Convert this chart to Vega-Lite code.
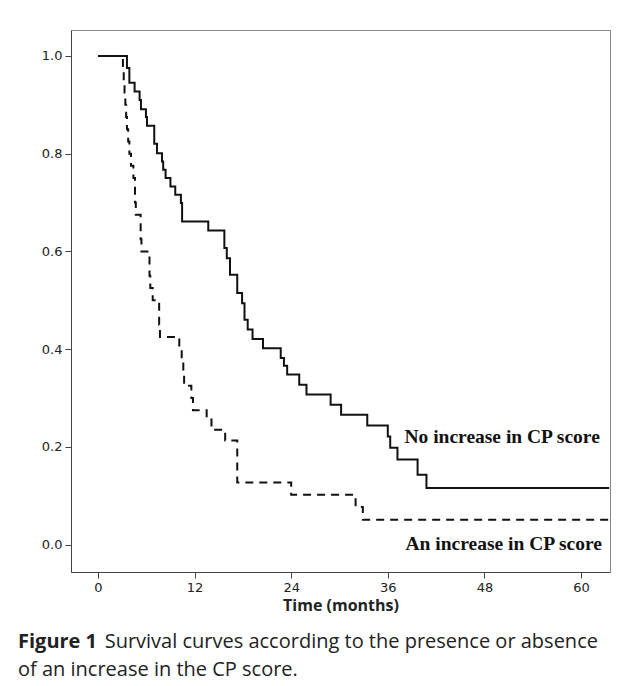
{
  "$schema": "https://vega.github.io/schema/vega-lite/v6.json",
  "width": 539,
  "height": 542,
  "autosize": {"type": "none"},
  "padding": {"left": 71, "top": 30, "right": 11, "bottom": 114},
  "background": "white",
  "config": {"view": {"stroke": "#888", "strokeWidth": 1}, "axis": {"grid": false}},
  "title": {
    "text": "Figure 1",
    "subtitle": ["\u200B\u2003\u2003\u2003\u2003\u2006\u2009Survival curves according to the presence or absence", "of an increase in the CP score."],
    "orient": "bottom",
    "anchor": "start",
    "frame": "group",
    "dx": -53,
    "offset": 19,
    "font": "Open Sans",
    "fontSize": 20,
    "fontWeight": "bold",
    "color": "#222",
    "subtitleFont": "Open Sans",
    "subtitleFontSize": 20,
    "subtitleFontWeight": "normal",
    "subtitleColor": "#222",
    "subtitleLineHeight": 28,
    "subtitlePadding": -20
  },
  "datasets": {
    "survival": [
      {"group": "No increase in CP score", "time": 0, "survival": 1.0},
      {"group": "No increase in CP score", "time": 3.6, "survival": 0.975},
      {"group": "No increase in CP score", "time": 3.9, "survival": 0.945},
      {"group": "No increase in CP score", "time": 4.55, "survival": 0.927},
      {"group": "No increase in CP score", "time": 5.17, "survival": 0.91},
      {"group": "No increase in CP score", "time": 5.34, "survival": 0.891},
      {"group": "No increase in CP score", "time": 5.96, "survival": 0.875},
      {"group": "No increase in CP score", "time": 6.09, "survival": 0.857},
      {"group": "No increase in CP score", "time": 6.99, "survival": 0.82},
      {"group": "No increase in CP score", "time": 7.33, "survival": 0.801},
      {"group": "No increase in CP score", "time": 7.95, "survival": 0.784},
      {"group": "No increase in CP score", "time": 8.1, "survival": 0.767},
      {"group": "No increase in CP score", "time": 8.4, "survival": 0.75},
      {"group": "No increase in CP score", "time": 9.0, "survival": 0.733},
      {"group": "No increase in CP score", "time": 9.6, "survival": 0.716},
      {"group": "No increase in CP score", "time": 10.3, "survival": 0.699},
      {"group": "No increase in CP score", "time": 10.45, "survival": 0.661},
      {"group": "No increase in CP score", "time": 13.7, "survival": 0.643},
      {"group": "No increase in CP score", "time": 15.7, "survival": 0.607},
      {"group": "No increase in CP score", "time": 16.0, "survival": 0.586},
      {"group": "No increase in CP score", "time": 16.4, "survival": 0.552},
      {"group": "No increase in CP score", "time": 17.3, "survival": 0.515},
      {"group": "No increase in CP score", "time": 17.9, "survival": 0.494},
      {"group": "No increase in CP score", "time": 18.2, "survival": 0.46},
      {"group": "No increase in CP score", "time": 18.6, "survival": 0.44},
      {"group": "No increase in CP score", "time": 19.2, "survival": 0.421},
      {"group": "No increase in CP score", "time": 20.5, "survival": 0.402},
      {"group": "No increase in CP score", "time": 22.7, "survival": 0.382},
      {"group": "No increase in CP score", "time": 23.1, "survival": 0.366},
      {"group": "No increase in CP score", "time": 23.5, "survival": 0.348},
      {"group": "No increase in CP score", "time": 25.0, "survival": 0.327},
      {"group": "No increase in CP score", "time": 25.9, "survival": 0.307},
      {"group": "No increase in CP score", "time": 28.9, "survival": 0.286},
      {"group": "No increase in CP score", "time": 30.2, "survival": 0.266},
      {"group": "No increase in CP score", "time": 33.45, "survival": 0.244},
      {"group": "No increase in CP score", "time": 36.0, "survival": 0.221},
      {"group": "No increase in CP score", "time": 36.3, "survival": 0.198},
      {"group": "No increase in CP score", "time": 37.2, "survival": 0.174},
      {"group": "No increase in CP score", "time": 39.7, "survival": 0.143},
      {"group": "No increase in CP score", "time": 40.8, "survival": 0.116},
      {"group": "No increase in CP score", "time": 63.5, "survival": 0.116},
      {"group": "An increase in CP score", "time": 0, "survival": 1.0},
      {"group": "An increase in CP score", "time": 3.1, "survival": 0.975},
      {"group": "An increase in CP score", "time": 3.2, "survival": 0.95},
      {"group": "An increase in CP score", "time": 3.3, "survival": 0.925},
      {"group": "An increase in CP score", "time": 3.4, "survival": 0.9},
      {"group": "An increase in CP score", "time": 3.5, "survival": 0.875},
      {"group": "An increase in CP score", "time": 3.6, "survival": 0.85},
      {"group": "An increase in CP score", "time": 3.75, "survival": 0.825},
      {"group": "An increase in CP score", "time": 3.9, "survival": 0.8},
      {"group": "An increase in CP score", "time": 4.1, "survival": 0.775},
      {"group": "An increase in CP score", "time": 4.4, "survival": 0.75},
      {"group": "An increase in CP score", "time": 4.6, "survival": 0.7},
      {"group": "An increase in CP score", "time": 4.7, "survival": 0.675},
      {"group": "An increase in CP score", "time": 5.3, "survival": 0.625},
      {"group": "An increase in CP score", "time": 5.4, "survival": 0.6},
      {"group": "An increase in CP score", "time": 6.4, "survival": 0.55},
      {"group": "An increase in CP score", "time": 6.5, "survival": 0.525},
      {"group": "An increase in CP score", "time": 6.8, "survival": 0.5},
      {"group": "An increase in CP score", "time": 7.6, "survival": 0.45},
      {"group": "An increase in CP score", "time": 7.7, "survival": 0.425},
      {"group": "An increase in CP score", "time": 10.1, "survival": 0.4},
      {"group": "An increase in CP score", "time": 10.4, "survival": 0.375},
      {"group": "An increase in CP score", "time": 10.6, "survival": 0.35},
      {"group": "An increase in CP score", "time": 10.7, "survival": 0.325},
      {"group": "An increase in CP score", "time": 11.6, "survival": 0.3},
      {"group": "An increase in CP score", "time": 11.8, "survival": 0.275},
      {"group": "An increase in CP score", "time": 13.5, "survival": 0.256},
      {"group": "An increase in CP score", "time": 14.1, "survival": 0.235},
      {"group": "An increase in CP score", "time": 15.8, "survival": 0.213},
      {"group": "An increase in CP score", "time": 17.3, "survival": 0.127},
      {"group": "An increase in CP score", "time": 24.0, "survival": 0.102},
      {"group": "An increase in CP score", "time": 32.0, "survival": 0.077},
      {"group": "An increase in CP score", "time": 32.9, "survival": 0.051},
      {"group": "An increase in CP score", "time": 63.5, "survival": 0.051}
    ],
    "labels": [
      {"label": "No increase in CP score", "time": 50.2, "survival": 0.221},
      {"label": "An increase in CP score", "time": 50.4, "survival": 0.002}
    ]
  },
  "layer": [
    {
      "data": {"name": "survival"},
      "mark": {"type": "line", "interpolate": "step-after", "strokeWidth": 2, "color": "#111", "clip": true},
      "encoding": {
        "x": {
          "field": "time", "type": "quantitative",
          "scale": {"domain": [-3.35, 63.6], "nice": false, "zero": false},
          "axis": {
            "values": [0, 12, 24, 36, 48, 60],
            "title": "Time (months)",
            "titleFont": "Open Sans", "titleFontWeight": "bold", "titleFontSize": 16, "titleColor": "#222", "titlePadding": 3,
            "labelFont": "DejaVu Sans", "labelFontSize": 13, "labelColor": "#222", "labelPadding": 3,
            "tickSize": 6, "tickColor": "#444", "domainColor": "#444", "labelFlush": false, "labelOverlap": false
          }
        },
        "y": {
          "field": "survival", "type": "quantitative",
          "scale": {"domain": [-0.056, 1.053], "nice": false, "zero": false},
          "axis": {
            "values": [0, 0.2, 0.4, 0.6, 0.8, 1.0],
            "format": ".1f",
            "title": null,
            "labelFont": "DejaVu Sans", "labelFontSize": 13, "labelColor": "#222", "labelPadding": 3,
            "tickSize": 6, "tickColor": "#444", "domainColor": "#444", "labelFlush": false, "labelOverlap": false
          }
        },
        "strokeDash": {
          "field": "group", "type": "nominal",
          "scale": {"domain": ["No increase in CP score", "An increase in CP score"], "range": [[1, 0], [8, 6]]},
          "legend": null
        }
      }
    },
    {
      "data": {"name": "labels"},
      "mark": {"type": "text", "font": "Liberation Serif", "fontWeight": "bold", "fontSize": 19.5, "color": "#111", "align": "center", "baseline": "middle"},
      "encoding": {
        "x": {"field": "time", "type": "quantitative"},
        "y": {"field": "survival", "type": "quantitative"},
        "text": {"field": "label"}
      }
    }
  ]
}
